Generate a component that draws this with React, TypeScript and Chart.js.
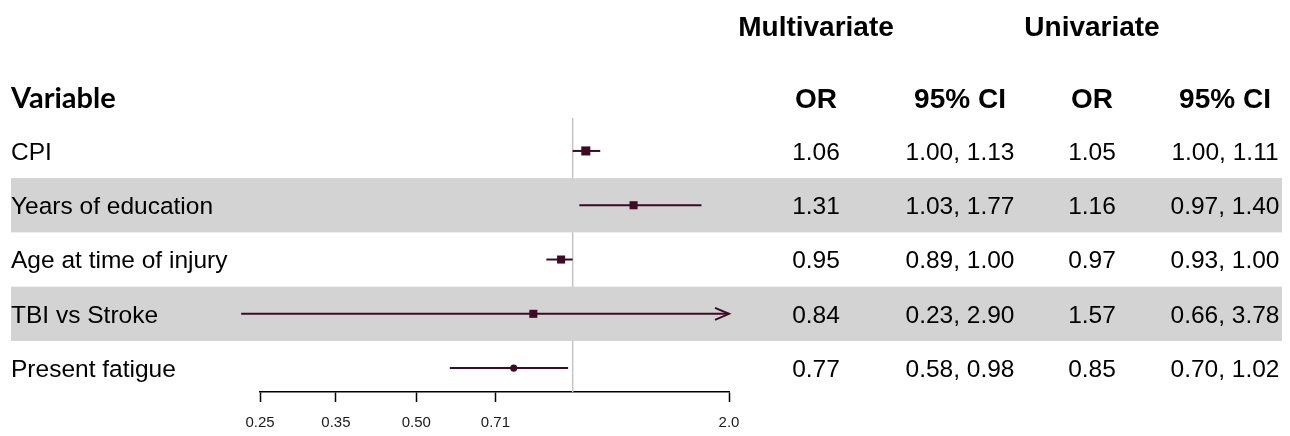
import React, { useEffect, useRef } from "react";
import { Chart, registerables } from "chart.js";

Chart.register(...registerables);

// ---- data ----
const variables = ["CPI", "Years of education", "Age at time of injury", "TBI vs Stroke", "Present fatigue"];
const multiOR = [1.06, 1.31, 0.95, 0.84, 0.77];
const multiLo = [1.0, 1.03, 0.89, 0.23, 0.58];
const multiHi = [1.13, 1.77, 1.0, 2.9, 0.98];
const uniOR = [1.05, 1.16, 0.97, 1.57, 0.85];
const uniLo = [1.0, 0.97, 0.93, 0.66, 0.7];
const uniHi = [1.11, 1.4, 1.0, 3.78, 1.02];
const tickValues = [0.25, 0.35, 0.5, 0.71, 2.0];
const tickLabels = ["0.25", "0.35", "0.50", "0.71", "2.0"];
const axisMin = 0.25;
const axisMax = 2.0;
const refValue = 1;

// ---- style ----
const markColor = "#3d0b26";
const boxRadii = [6.4, 5.7, 5.7, 5.7, 3.6];
const boxStyles = ["rect", "rect", "rect", "rect", "circle"];
const W = 1290;
const H = 436;
const fmt = (v: number) => v.toFixed(2);

const forestPlugin = {
  id: "forest",
  beforeDatasetsDraw(chart: any) {
    const { ctx, chartArea, scales } = chart;
    const x = scales.x;
    const y = scales.y;
    ctx.save();
    // reference line
    const rx = x.getPixelForValue(refValue);
    ctx.strokeStyle = "#c4c4c4";
    ctx.lineWidth = 1.5;
    ctx.beginPath();
    ctx.moveTo(rx, chartArea.top - 2);
    ctx.lineTo(rx, chartArea.bottom);
    ctx.stroke();
    // bands
    ctx.fillStyle = "#d3d3d3";
    variables.forEach((_, i) => {
      if (i % 2 === 1) {
        const t = y.getPixelForValue(i - 0.5);
        const b = y.getPixelForValue(i + 0.5);
        ctx.fillRect(11, t, 1282 - 11, b - t);
      }
    });
    ctx.restore();
  },
  afterDatasetsDraw(chart: any) {
    const { ctx, scales } = chart;
    const x = scales.x;
    const y = scales.y;
    ctx.save();
    ctx.strokeStyle = markColor;
    ctx.lineWidth = 2;
    variables.forEach((_, i) => {
      if (multiHi[i] > axisMax) {
        const px = x.getPixelForValue(axisMax);
        const py = y.getPixelForValue(i);
        ctx.beginPath();
        ctx.moveTo(px - 14, py - 6);
        ctx.lineTo(px, py);
        ctx.lineTo(px - 14, py + 6);
        ctx.stroke();
      }
    });
    ctx.restore();
  },
  afterDraw(chart: any) {
    const { ctx, scales } = chart;
    const y = scales.y;
    const cols = [816, 960, 1092, 1225];
    ctx.save();
    ctx.fillStyle = "#000";
    ctx.textBaseline = "middle";
    ctx.font = "bold 28px 'Liberation Sans', Arial, sans-serif";
    ctx.textAlign = "center";
    ctx.fillText("Multivariate", cols[0], 28);
    ctx.fillText("Univariate", cols[2], 28);
    ctx.fillText("OR", cols[0], 100);
    ctx.fillText("95% CI", cols[1], 100);
    ctx.fillText("OR", cols[2], 100);
    ctx.fillText("95% CI", cols[3], 100);
    ctx.textAlign = "left";
    ctx.font = "bold 29px Lato, 'Liberation Sans', sans-serif";
    ctx.fillText("Variable", 11, 99);
    variables.forEach((name, i) => {
      const py = y.getPixelForValue(i) + 2;
      ctx.textAlign = "left";
      ctx.font = "24.5px 'Liberation Sans', Arial, sans-serif";
      ctx.fillText(name, 11, py);
      ctx.textAlign = "center";
      ctx.font = "24.5px 'Liberation Sans', Arial, sans-serif";
      ctx.fillText(fmt(multiOR[i]), cols[0], py);
      ctx.fillText(fmt(multiLo[i]) + ", " + fmt(multiHi[i]), cols[1], py);
      ctx.fillText(fmt(uniOR[i]), cols[2], py);
      ctx.fillText(fmt(uniLo[i]) + ", " + fmt(uniHi[i]), cols[3], py);
    });
    ctx.restore();
  },
};

export default function App() {
  const ref = useRef<HTMLCanvasElement | null>(null);
  useEffect(() => {
    if (!ref.current) return;
    const ciSets: any[] = variables.map((_, i) => ({
      type: "line",
      data: [
        { x: multiLo[i], y: i },
        { x: Math.min(multiHi[i], axisMax), y: i },
      ],
      borderColor: markColor,
      borderWidth: 2,
      pointRadius: 0,
      clip: false,
      order: 2,
    }));
    const pointSet: any = {
      type: "scatter",
      data: multiOR.map((v, i) => ({ x: v, y: i })),
      pointStyle: boxStyles,
      pointRadius: boxRadii,
      backgroundColor: markColor,
      borderColor: markColor,
      borderWidth: 0,
      clip: false,
      order: 1,
    };
    const chart = new Chart(ref.current, {
      type: "scatter",
      data: { datasets: [...ciSets, pointSet] },
      options: {
        animation: false,
        responsive: false,
        layout: { padding: { left: 260, right: W - 729, top: 120, bottom: 0 } },
        plugins: { legend: { display: false }, tooltip: { enabled: false } },
        scales: {
          x: {
            type: "logarithmic",
            min: axisMin,
            max: axisMax,
            bounds: "data",
            afterBuildTicks: (s: any) => {
              s.ticks = tickValues.map((v) => ({ value: v }));
            },
            afterFit: (s: any) => {
              s.height = H - 392;
            },
            border: { display: true, color: "#000", width: 1.5 },
            grid: { display: true, drawOnChartArea: false, drawTicks: true, tickLength: 10, tickColor: "#000", tickWidth: 1.5 },
            ticks: {
              autoSkip: false,
              maxRotation: 0,
              padding: 12,
              color: "#1a1a1a",
              font: { family: "'Liberation Sans Narrow', 'Liberation Sans', Arial, sans-serif", size: 15 },
              callback: (_v: any, idx: number) => tickLabels[idx],
            },
          },
          y: {
            type: "linear",
            display: false,
            reverse: true,
            min: -0.57,
            max: 4.44,
            bounds: "data",
          },
        },
      },
      plugins: [forestPlugin],
    });
    return () => chart.destroy();
  }, []);
  return (
    <div style={{ position: "absolute", left: 0, top: 0, width: W, height: H, background: "#fff" }}>
      <canvas ref={ref} width={W} height={H} style={{ width: W, height: H, display: "block" }} />
    </div>
  );
}
